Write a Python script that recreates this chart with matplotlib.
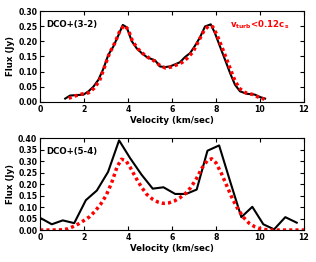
import matplotlib
matplotlib.use('Agg')
import matplotlib.pyplot as plt

# DCO+(3-2): observed spectrum and model
obs32_v = [1.14, 1.36, 1.97, 2.20, 2.42, 2.65, 2.88, 3.10, 3.33, 3.56, 3.76,
           3.94, 4.17, 4.39, 4.62, 4.85, 5.08, 5.23, 5.45, 5.68, 5.90, 6.14,
           6.36, 6.59, 6.82, 7.05, 7.27, 7.50, 7.76, 7.95, 8.18, 8.41, 8.64,
           8.86, 9.09, 9.39, 9.77, 10.00, 10.23]
obs32_f = [0.011, 0.021, 0.024, 0.035, 0.050, 0.073, 0.110, 0.155, 0.183, 0.220,
           0.254, 0.246, 0.200, 0.177, 0.161, 0.148, 0.141, 0.137, 0.117, 0.115,
           0.117, 0.124, 0.131, 0.148, 0.161, 0.186, 0.213, 0.249, 0.256, 0.227,
           0.183, 0.139, 0.095, 0.057, 0.035, 0.027, 0.024, 0.016, 0.011]
mod32_v = [1.30, 1.60, 1.90, 2.20, 2.45, 2.70, 2.95, 3.15, 3.40, 3.60, 3.80,
           4.00, 4.20, 4.45, 4.70, 4.95, 5.20, 5.45, 5.70, 5.95, 6.20, 6.45,
           6.70, 6.95, 7.20, 7.45, 7.65, 7.85, 8.05, 8.30, 8.55, 8.80, 9.05,
           9.35, 9.65, 9.95, 10.20]
mod32_f = [0.012, 0.020, 0.026, 0.030, 0.045, 0.070, 0.120, 0.160, 0.195, 0.230,
           0.252, 0.240, 0.200, 0.175, 0.158, 0.145, 0.135, 0.120, 0.112, 0.115,
           0.122, 0.130, 0.145, 0.165, 0.200, 0.235, 0.250, 0.248, 0.220, 0.175,
           0.128, 0.080, 0.045, 0.030, 0.025, 0.015, 0.009]

# DCO+(5-4): observed spectrum and model
obs54_v = [0.00, 0.53, 1.03, 1.55, 2.08, 2.58, 3.09, 3.59, 4.09, 4.61, 5.12,
           5.61, 6.14, 6.64, 7.12, 7.61, 8.14, 8.64, 9.15, 9.65, 10.15, 10.64,
           11.15, 11.67]
obs54_f = [0.053, 0.025, 0.042, 0.030, 0.130, 0.172, 0.253, 0.390, 0.313, 0.241,
           0.180, 0.186, 0.157, 0.157, 0.176, 0.345, 0.368, 0.212, 0.056, 0.101,
           0.025, 0.003, 0.056, 0.032]
mod54_v = [0.00, 0.50, 1.00, 1.25, 1.50, 1.75, 2.00, 2.25, 2.50, 2.75, 3.00,
           3.25, 3.50, 3.70, 3.90, 4.10, 4.35, 4.60, 4.85, 5.10, 5.35, 5.60,
           5.85, 6.10, 6.35, 6.60, 6.85, 7.10, 7.35, 7.60, 7.80, 8.00, 8.25,
           8.50, 8.75, 9.00, 9.25, 9.50, 9.75, 10.00, 10.25, 10.50, 11.00,
           11.50, 12.00]
mod54_f = [0.000, 0.000, 0.001, 0.005, 0.015, 0.027, 0.042, 0.058, 0.082, 0.112,
           0.150, 0.205, 0.275, 0.308, 0.302, 0.272, 0.228, 0.188, 0.155, 0.135,
           0.122, 0.116, 0.118, 0.126, 0.140, 0.158, 0.185, 0.222, 0.268, 0.302,
           0.310, 0.292, 0.245, 0.190, 0.135, 0.090, 0.055, 0.030, 0.015, 0.006,
           0.002, 0.000, 0.000, 0.000, 0.000]

plt.rcParams['font.weight'] = 'bold'
plt.rcParams['axes.labelweight'] = 'bold'
plt.rcParams['font.size'] = 6.2
plt.rcParams['xtick.labelsize'] = 5.6
plt.rcParams['ytick.labelsize'] = 5.6
plt.rcParams['xtick.direction'] = 'in'
plt.rcParams['ytick.direction'] = 'in'
plt.rcParams['xtick.top'] = True
plt.rcParams['ytick.right'] = True

fig = plt.figure(figsize=(3.16, 2.62), dpi=100)
ax1 = fig.add_axes([0.127, 0.611, 0.835, 0.347])
ax2 = fig.add_axes([0.127, 0.122, 0.835, 0.351])

red_style = dict(color='red', lw=2.5, ls=(0, (0.9, 0.9)))

ax1.plot(obs32_v, obs32_f, color='k', lw=1.5)
ax1.plot(mod32_v, mod32_f, **red_style)
ax1.set_xlim(0, 12)
ax1.set_ylim(0, 0.30)
ax1.set_yticks([0, 0.05, 0.10, 0.15, 0.20, 0.25, 0.30])
ax1.set_xlabel('Velocity (km/sec)', labelpad=1.5)
ax1.set_ylabel('Flux (Jy)', labelpad=2)
ax1.text(0.025, 0.85, 'DCO+(3-2)', transform=ax1.transAxes, va='center',
         fontweight='bold')
ax1.text(0.72, 0.85, r'$\mathbf{v_{turb}}$<0.12$\mathbf{c_s}$',
         transform=ax1.transAxes, va='center', color='red', fontweight='bold')

ax2.plot(obs54_v, obs54_f, color='k', lw=1.5)
ax2.plot(mod54_v, mod54_f, **red_style)
ax2.set_xlim(0, 12)
ax2.set_ylim(0, 0.40)
ax2.set_yticks([0, 0.05, 0.10, 0.15, 0.20, 0.25, 0.30, 0.35, 0.40])
ax2.set_xlabel('Velocity (km/sec)', labelpad=1.5)
ax2.set_ylabel('Flux (Jy)', labelpad=2)
ax2.text(0.025, 0.85, 'DCO+(5-4)', transform=ax2.transAxes, va='center',
         fontweight='bold')

for ax in (ax1, ax2):
    ax.yaxis.set_major_formatter(matplotlib.ticker.FormatStrFormatter('%.2f'))
    ax.tick_params(length=3, pad=2)

fig.savefig('out.png', dpi=100)
